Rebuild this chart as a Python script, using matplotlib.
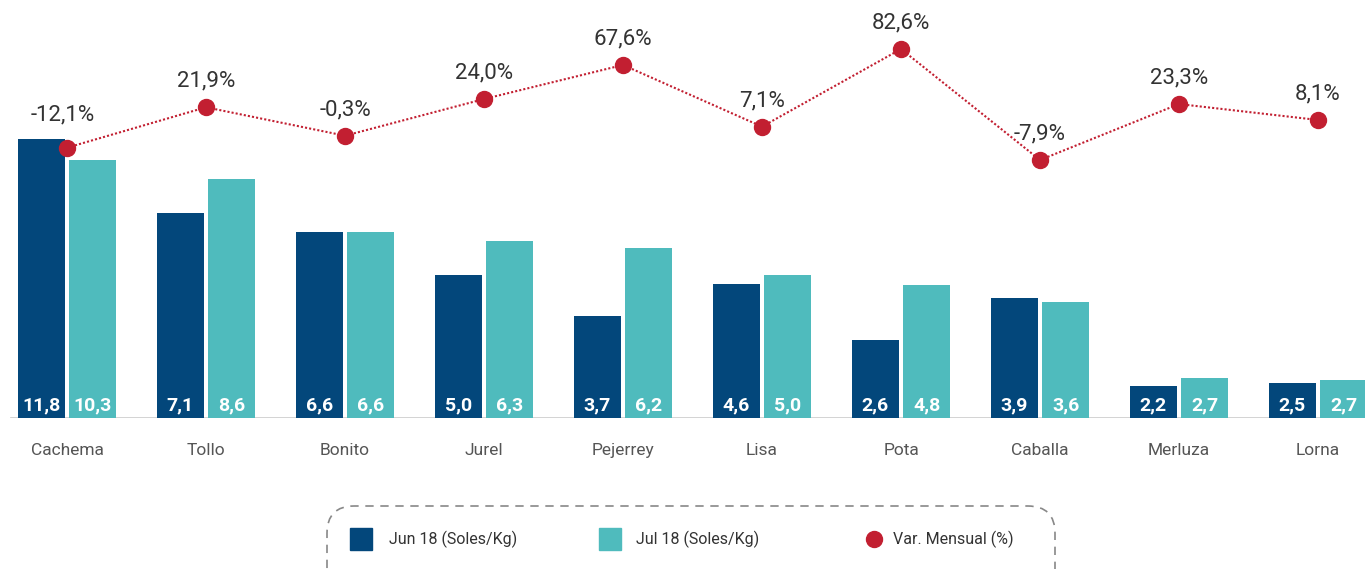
import matplotlib
matplotlib.use("Agg")
import matplotlib.pyplot as plt
from matplotlib.patches import FancyBboxPatch, Rectangle
from matplotlib.lines import Line2D
import numpy as np

plt.rcParams['font.family'] = ['Roboto', 'DejaVu Sans']

categories = ["Cachema", "Tollo", "Bonito", "Jurel", "Pejerrey", "Lisa", "Pota", "Caballa", "Merluza", "Lorna"]
# printed price labels (Soles/Kg)
jun_labels = ["11,8", "7,1", "6,6", "5,0", "3,7", "4,6", "2,6", "3,9", "2,2", "2,5"]
jul_labels = ["10,3", "8,6", "6,6", "6,3", "6,2", "5,0", "4,8", "3,6", "2,7", "2,7"]
# bar heights as drawn in the picture
jun_heights = [11.8, 8.67, 7.86, 6.04, 4.31, 5.66, 3.29, 5.07, 1.34, 1.47]
jul_heights = [10.91, 10.11, 7.86, 7.48, 7.18, 6.04, 5.62, 4.90, 1.68, 1.60]
# monthly variation: printed labels and plotted positions
var_labels = ["-12,1%", "21,9%", "-0,3%", "24,0%", "67,6%", "7,1%", "82,6%", "-7,9%", "23,3%", "8,1%"]
var_positions = [-12.1, 26.7, -0.6, 34.6, 67.3, 8.1, 82.6, -23.9, 29.8, 14.5]

legend_labels = ["Jun 18 (Soles/Kg)", "Jul 18 (Soles/Kg)", "Var. Mensual (%)"]

C_JUN = "#03477B"
C_JUL = "#4FBBBD"
C_RED = "#C21F31"
C_TXT = "#333333"
C_CAT = "#555555"

W, H = 1365, 569
fig = plt.figure(figsize=(W / 100, H / 100), dpi=100)
base_frac = (H - 417.7) / H
ax = fig.add_axes([0, base_frac, 1, 1 - base_frac])
ax.set_xlim(-0.482, 9.338)
ax.set_ylim(0, 417.7 / 23.62)
ax.axis("off")

x = np.arange(len(categories))
bw = 0.34
off = 0.185
ax.bar(x - off, jun_heights, bw, color=C_JUN, zorder=2)
ax.bar(x + off, jul_heights, bw, color=C_JUL, zorder=2)
ax.axhline(0, color="#cccccc", lw=1.2, xmin=0.008, zorder=1)

for i in range(len(categories)):
    ax.text(x[i] - off, 0.13, jun_labels[i], color="white", ha="center", va="bottom",
            fontsize=14, fontweight="bold", zorder=3)
    ax.text(x[i] + off, 0.13, jul_labels[i], color="white", ha="center", va="bottom",
            fontsize=14, fontweight="bold", zorder=3)
    ax.text(x[i], -1.40, categories[i], color=C_CAT, ha="center", va="center",
            fontsize=12.5)

ax2 = ax.twinx()
ax2.set_ylim(-12.1 - (417.7 - 147.7) / 1.042, -12.1 + 147.7 / 1.042)
ax2.axis("off")
ax2.plot(x, var_positions, color=C_RED, lw=1.5, ls=(0, (1, 1)), zorder=4)
ax2.plot(x, var_positions, "o", color=C_RED, ms=11.5, zorder=5)
for i in range(len(categories)):
    dy = 26 if i != 0 else 33
    dx = 0 if i != 0 else -4
    ax2.annotate(var_labels[i], (x[i], var_positions[i]), xytext=(dx * 0.72, dy * 0.72),
                 textcoords="offset points", ha="center", va="center",
                 color=C_TXT, fontsize=16, zorder=6)

# legend box
def fx(px):
    return px / W
def fy(py):
    return (H - py) / H

box = FancyBboxPatch((fx(327), fy(620)), fx(1055) - fx(327), fy(506) - fy(620),
                     boxstyle="round,pad=0,rounding_size=0.02", transform=fig.transFigure,
                     fill=False, edgecolor="#888888", lw=1.2, ls=(0, (5, 4)),
                     mutation_aspect=W / H, clip_on=False)
fig.patches.append(box)
fig.patches.append(Rectangle((fx(350), fy(550)), fx(22), 22 / H, transform=fig.transFigure,
                             color=C_JUN))
fig.patches.append(Rectangle((fx(599), fy(550)), fx(22), 22 / H, transform=fig.transFigure,
                             color=C_JUL))
fig.add_artist(Line2D([fx(874)], [fy(539)], marker="o", color=C_RED, ms=11.5,
                      transform=fig.transFigure))
fig.text(fx(389), fy(539), legend_labels[0], ha="left", va="center", fontsize=11.5, color=C_TXT)
fig.text(fx(636), fy(539), legend_labels[1], ha="left", va="center", fontsize=11.5, color=C_TXT)
fig.text(fx(893), fy(539), legend_labels[2], ha="left", va="center", fontsize=11.5, color=C_TXT)

fig.savefig("out.png", dpi=100)
